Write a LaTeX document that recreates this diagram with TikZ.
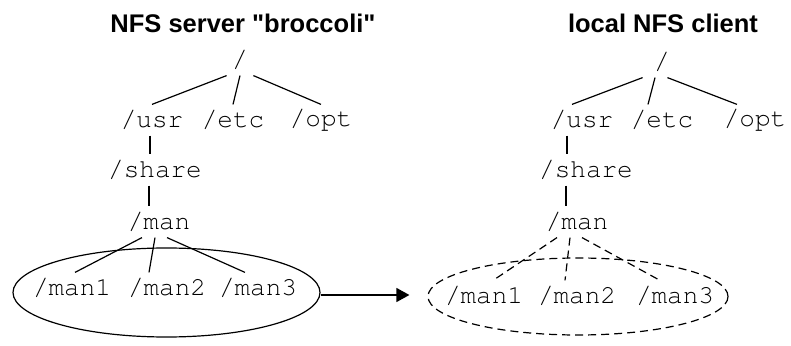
\documentclass[tikz,border=0pt]{standalone}
\usepackage{fontspec}
\setmainfont{Liberation Sans}
\newcommand\pathfont{\fontencoding{T1}\fontfamily{pcr}\selectfont}
\usetikzlibrary{shapes.geometric,arrows.meta}

\tikzset{
  heading/.style={font=\bfseries\fontsize{25.5}{30}\selectfont, anchor=base},
  dirname/.style={font=\pathfont\fontsize{26}{30}\selectfont, inner xsep=5pt, inner ysep=0pt, minimum height=30pt},
  exportset/.style={ellipse, draw, inner sep=0pt},
}

\begin{document}
\begin{tikzpicture}[x=1pt, y=1pt, line width=1.2pt]
\useasboundingbox (0,0) rectangle (791,345);

% server side
\node[heading] (stitle) at (243,312) {NFS server \textquotedbl broccoli\textquotedbl};
\node[dirname] (sroot) at (240,285) {/};
\node[dirname] (susr) at (152,225) {/usr};
\node[dirname] (setc) at (233,225) {/etc};
\node[dirname] (sopt) at (321,225) {/opt};
\node[dirname] (sshare) at (155,175) {/share};
\node[dirname] (sman) at (159,123) {/man};
\node[dirname] (sman1) at (72,57) {/man1};
\node[dirname] (sman2) at (167,57) {/man2};
\node[dirname] (sman3) at (258,57) {/man3};
\node[exportset, minimum width=307pt, minimum height=89pt] (sgroup) at (166.5,52.5) {};

\draw (sroot.south west) -- (susr.north);
\draw (sroot.south) -- (setc.north);
\draw (sroot.south east) -- (sopt.north);
\draw ([xshift=-2pt]susr.south) -- ([xshift=-5pt]sshare.north);
\draw ([xshift=-6pt]sshare.south) -- ([xshift=-10pt]sman.north);
\draw ([xshift=-17pt]sman.south) -- ([xshift=3pt]sman1.north);
\draw ([xshift=-4pt]sman.south) -- ([xshift=-18pt]sman2.north);
\draw ([xshift=8pt]sman.south) -- ([xshift=-13pt]sman3.north);

% client side
\node[heading] (ctitle) at (663,312) {local NFS client};
\node[dirname] (croot) at (662,283) {/};
\node[dirname] (cusr) at (582,225) {/usr};
\node[dirname] (cetc) at (662,225) {/etc};
\node[dirname] (copt) at (755,225) {/opt};
\node[dirname] (cshare) at (586,175) {/share};
\node[dirname] (cman) at (577,123) {/man};
\node[dirname] (cman1) at (484,49) {/man1};
\node[dirname] (cman2) at (577,49) {/man2};
\node[dirname] (cman3) at (675,49) {/man3};
\node[exportset, dashed, dash pattern=on 8pt off 5pt, minimum width=300pt, minimum height=77pt] (cgroup) at (578,48.5) {};

\draw ([xshift=-6pt]croot.south west) -- ([xshift=-10pt]cusr.north);
\draw ([xshift=-7pt]croot.south) -- ([xshift=-14pt]cetc.north);
\draw ([xshift=-8pt]croot.south east) -- ([xshift=-18pt]copt.north);
\draw ([xshift=-15pt]cusr.south) -- ([xshift=-19pt]cshare.north);
\draw ([xshift=-20pt]cshare.south) -- ([xshift=-11pt]cman.north);
\draw[dash pattern=on 8pt off 5pt] ([xshift=-20pt]cman.south) -- ([xshift=9pt]cman1.north);
\draw[dash pattern=on 8pt off 5pt] ([xshift=-7pt]cman.south) -- ([xshift=-12pt]cman2.north);
\draw[dash pattern=on 8pt off 5pt] ([xshift=5pt]cman.south) -- ([xshift=-15pt]cman3.north);

% mount
\draw[-{Triangle[length=13pt,width=14pt]}] ([yshift=-2.5pt]sgroup.east) -- ([xshift=-18pt,yshift=1.5pt]cgroup.west);
\end{tikzpicture}
\end{document}
